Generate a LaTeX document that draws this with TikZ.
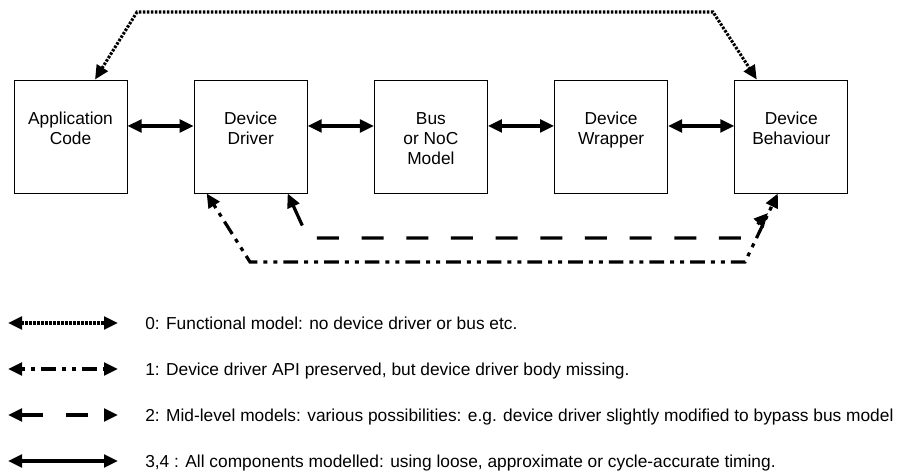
\documentclass[tikz,border=0pt]{standalone}
\usepackage{fontspec}
\setmainfont{Liberation Sans}
\usetikzlibrary{arrows.meta}

\tikzset{
  blk/.style={draw, line width=0.75pt, minimum width=84.75pt, minimum height=84.75pt, inner sep=0pt},
  blktxt/.style={anchor=north, inner sep=0pt, yshift=-24.5pt, align=center},
  conn/.style={line width=2.4pt, {Triangle[length=10.5pt,width=9.5pt]}-{Triangle[length=10.5pt,width=9.5pt]}},
  solidline/.style={conn},
  dotline/.style={conn, line width=2.3pt, dash pattern=on 1.9pt off 1.1pt},
  dashdotline/.style={conn, dash pattern=on 3pt off 4.5pt on 3pt off 4.5pt on 11pt off 4.5pt},
  dashline/.style={conn, dash pattern=on 16.5pt off 17pt},
  legtxt/.style={anchor=base west, inner sep=0pt}
}

\begin{document}
\begin{tikzpicture}[x=0.75pt, y=-0.75pt, font=\fontsize{13}{15}\selectfont]
        \useasboundingbox (0,0) rectangle (908,475);

        % Blocks of the model chain
        \foreach \nm/\txt [count=\i from 0] in {app/{Application\\Code}, drv/{Device\\Driver},
                bus/{Bus\\or NoC\\Model}, wrp/{Device\\Wrapper}, beh/{Device\\Behaviour}} {
                \node[blk, label={[blktxt]north:\txt}] (\nm) at ({70.5+180.2*\i},136.5) {};
            }

        % Links between neighbouring blocks
        \foreach \a/\b in {app/drv, drv/bus, bus/wrp, wrp/beh} {
                \draw[solidline] ([yshift=7.9pt]\a.east) -- ([yshift=7.9pt]\b.west);
            }

        % Corners of the bypass paths
        \coordinate (tl) at (137,12);
        \coordinate (tr) at (713,12);
        \coordinate (bl) at (250,262);
        \coordinate (br) at (745,262);
        \coordinate (ml) at (308,238);
        \coordinate (mr) at (745,238);
        \coordinate (me) at (768,213);

        \draw[dotline] ([xshift=18.4pt]app.north) -- (tl) -- (tr) -- ([xshift=-25.9pt]beh.north);
        \draw[dashdotline] ([xshift=-33pt]drv.south) -- (bl) -- (br) -- ([xshift=-10.1pt]beh.south);
        \draw[dashline] ([xshift=27.75pt]drv.south) -- (ml) -- (mr) -- (me);

        % Legend
        \foreach \sty/\txt [count=\i from 0] in {
                dotline/{0: Functional model: no device driver or bus etc.},
                dashdotline/{1: Device driver API preserved, but device driver body missing.},
                dashline/{2: Mid-level models: various possibilities: e.g. device driver slightly modified to bypass bus model},
                solidline/{3,4 : All components modelled: using loose, approximate or cycle-accurate timing.}} {
                \coordinate (ls\i) at (8,{323+46*\i});
                \coordinate (le\i) at (118,{323+46*\i});
                \draw[\sty] (ls\i) -- (le\i);
                \node[legtxt] (leg\i) at (145,{329+46*\i}) {\txt};
            }
    \end{tikzpicture}
\end{document}
